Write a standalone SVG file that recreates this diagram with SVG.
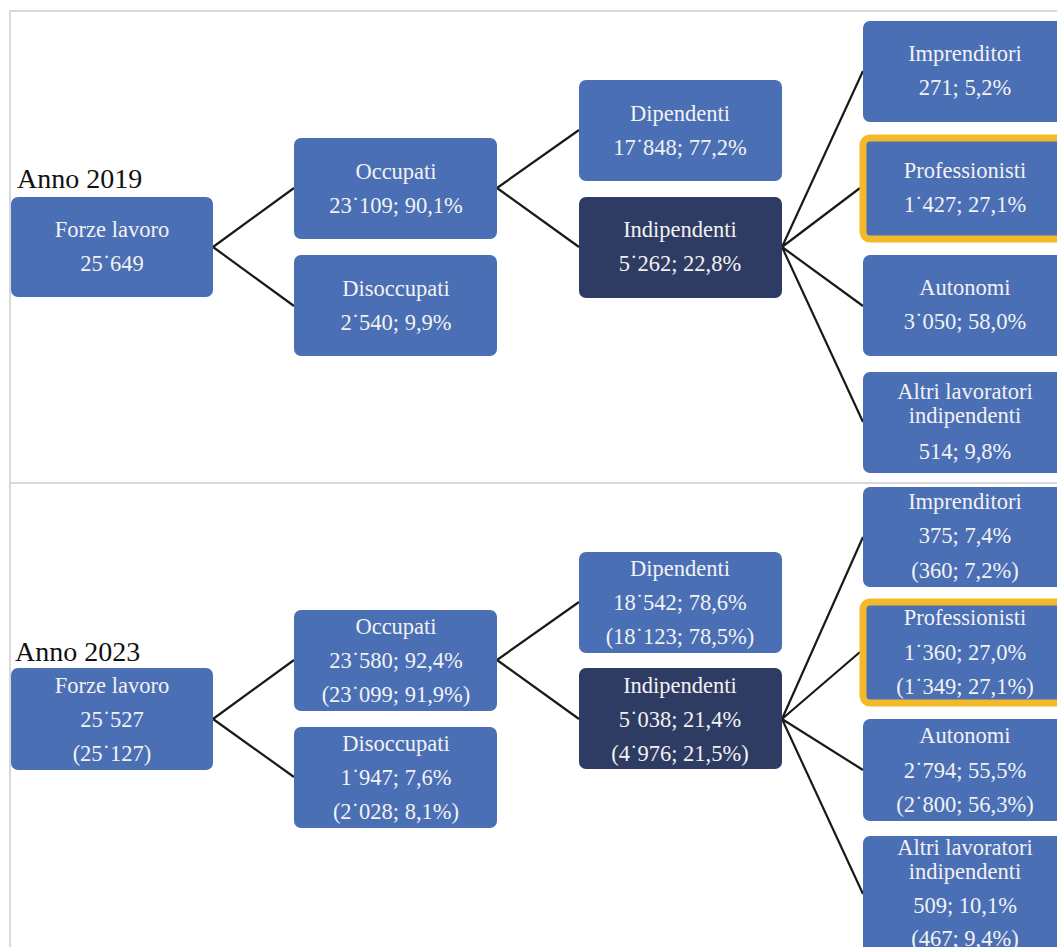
<svg xmlns="http://www.w3.org/2000/svg" width="1057" height="947" viewBox="0 0 1057 947">
<style>
.frame{fill:none;stroke:#d9d9d9;stroke-width:2}
.b{fill:#4a6fb5}
.d{fill:#2e3b62}
.g{fill:#4a6fb5;stroke:#f4b928;stroke-width:7}
.t{font-family:"Liberation Serif",serif;font-size:22.5px;fill:#f2f2f2;text-anchor:middle}
.yr{font-family:"Liberation Serif",serif;font-size:28px;fill:#111}
.c{fill:none;stroke:#1a1a1a;stroke-width:2.2}
</style>
<rect width="1057" height="947" fill="#fff"/>
<g id="frame">
<path class="frame" d="M1057 11 H10 V947 M10 483 H1057"/>
</g>
<g id="connectors">
<path class="c" d="M213 247 L294 188 M213 247 L294 306 M497 188 L579 130 M497 188 L579 247 M782 247 L863 71 M782 247 L860 188 M782 247 L863 306 M782 247 L863 422"/>
<path class="c" d="M213 719 L294 660 M213 719 L294 777 M497 660 L579 602 M497 660 L579 719 M782 719 L863 537 M782 719 L860 652 M782 719 L863 770 M782 719 L863 894"/>
</g>
<text class="yr" x="17" y="188">Anno 2019</text>
<text class="yr" x="15" y="661">Anno 2023</text>
<g id="fl2019"><rect class="b" x="11" y="197" width="202" height="100" rx="7"/><text class="t" x="112" y="237">Forze lavoro</text><text class="t" x="112" y="271">25˙649</text></g>
<g id="occ2019"><rect class="b" x="294" y="138" width="203" height="101" rx="7"/><text class="t" x="396" y="179">Occupati</text><text class="t" x="396" y="213">23˙109; 90,1%</text></g>
<g id="dis2019"><rect class="b" x="294" y="255" width="203" height="101" rx="7"/><text class="t" x="396" y="296">Disoccupati</text><text class="t" x="396" y="330">2˙540; 9,9%</text></g>
<g id="dip2019"><rect class="b" x="579" y="80" width="203" height="101" rx="7"/><text class="t" x="680" y="121">Dipendenti</text><text class="t" x="680" y="155">17˙848; 77,2%</text></g>
<g id="ind2019"><rect class="d" x="579" y="197" width="203" height="101" rx="7"/><text class="t" x="680" y="237">Indipendenti</text><text class="t" x="680" y="271">5˙262; 22,8%</text></g>
<g id="imp2019"><rect class="b" x="863" y="21" width="204" height="101" rx="7"/><text class="t" x="965" y="61">Imprenditori</text><text class="t" x="965" y="95">271; 5,2%</text></g>
<g id="pro2019"><rect class="g" x="863" y="138" width="204" height="101" rx="7"/><text class="t" x="965" y="178">Professionisti</text><text class="t" x="965" y="212">1˙427; 27,1%</text></g>
<g id="aut2019"><rect class="b" x="863" y="255" width="204" height="101" rx="7"/><text class="t" x="965" y="295">Autonomi</text><text class="t" x="965" y="329">3˙050; 58,0%</text></g>
<g id="alt2019"><rect class="b" x="863" y="372" width="204" height="101" rx="7"/><text class="t" x="965" y="399">Altri lavoratori</text><text class="t" x="965" y="423">indipendenti</text><text class="t" x="965" y="459">514; 9,8%</text></g>
<g id="fl2023"><rect class="b" x="11" y="668" width="202" height="102" rx="7"/><text class="t" x="112" y="693">Forze lavoro</text><text class="t" x="112" y="727">25˙527</text><text class="t" x="112" y="761">(25˙127)</text></g>
<g id="occ2023"><rect class="b" x="294" y="610" width="203" height="101" rx="7"/><text class="t" x="396" y="634">Occupati</text><text class="t" x="396" y="668">23˙580; 92,4%</text><text class="t" x="396" y="702">(23˙099; 91,9%)</text></g>
<g id="dis2023"><rect class="b" x="294" y="727" width="203" height="101" rx="7"/><text class="t" x="396" y="751">Disoccupati</text><text class="t" x="396" y="785">1˙947; 7,6%</text><text class="t" x="396" y="819">(2˙028; 8,1%)</text></g>
<g id="dip2023"><rect class="b" x="579" y="552" width="203" height="101" rx="7"/><text class="t" x="680" y="576">Dipendenti</text><text class="t" x="680" y="610">18˙542; 78,6%</text><text class="t" x="680" y="644">(18˙123; 78,5%)</text></g>
<g id="ind2023"><rect class="d" x="579" y="668" width="203" height="101" rx="7"/><text class="t" x="680" y="693">Indipendenti</text><text class="t" x="680" y="727">5˙038; 21,4%</text><text class="t" x="680" y="761">(4˙976; 21,5%)</text></g>
<g id="imp2023"><rect class="b" x="863" y="487" width="204" height="100" rx="7"/><text class="t" x="965" y="509">Imprenditori</text><text class="t" x="965" y="543">375; 7,4%</text><text class="t" x="965" y="578">(360; 7,2%)</text></g>
<g id="pro2023"><rect class="g" x="863" y="602" width="204" height="101" rx="7"/><text class="t" x="965" y="625">Professionisti</text><text class="t" x="965" y="660">1˙360; 27,0%</text><text class="t" x="965" y="694">(1˙349; 27,1%)</text></g>
<g id="aut2023"><rect class="b" x="863" y="719" width="204" height="102" rx="7"/><text class="t" x="965" y="743">Autonomi</text><text class="t" x="965" y="778">2˙794; 55,5%</text><text class="t" x="965" y="812">(2˙800; 56,3%)</text></g>
<g id="alt2023"><rect class="b" x="863" y="836" width="204" height="120" rx="7"/><text class="t" x="965" y="855">Altri lavoratori</text><text class="t" x="965" y="879">indipendenti</text><text class="t" x="965" y="913">509; 10,1%</text><text class="t" x="965" y="946">(467; 9,4%)</text></g>
</svg>
